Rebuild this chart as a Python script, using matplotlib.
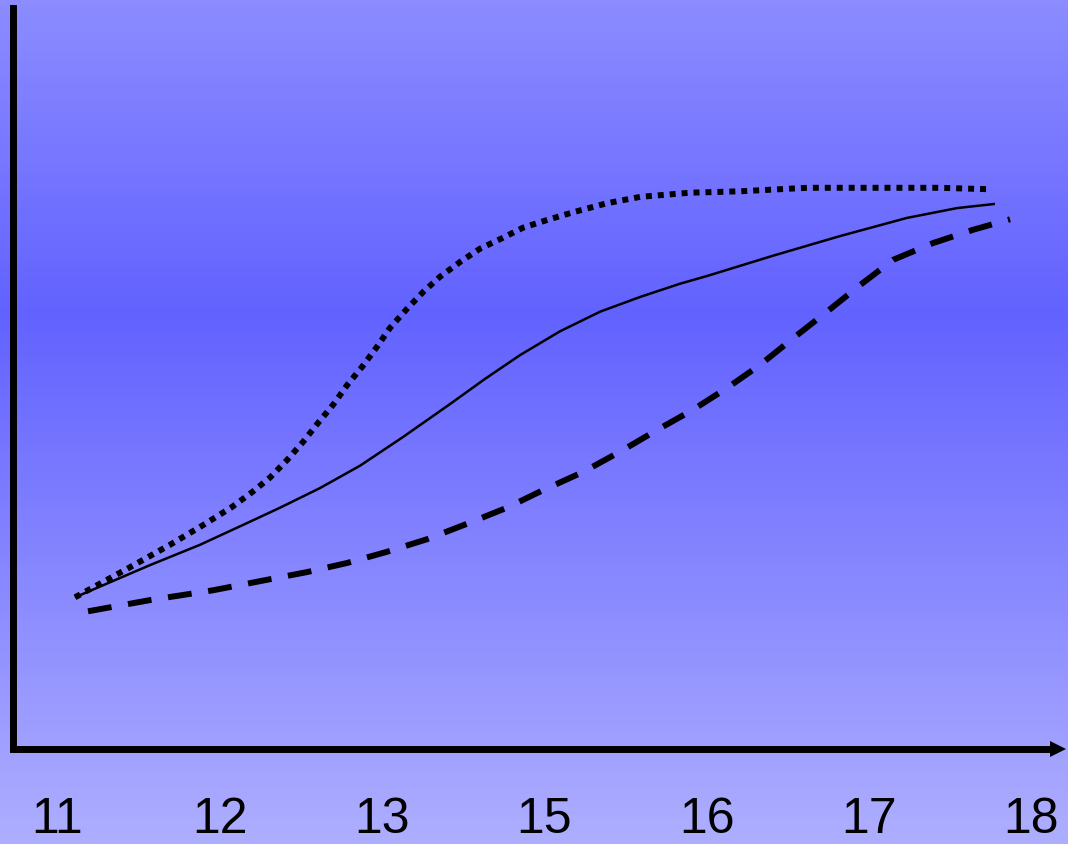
import matplotlib
matplotlib.use('Agg')
import matplotlib.pyplot as plt
import numpy as np
from matplotlib.colors import LinearSegmentedColormap

plt.rcParams['font.family'] = ['Liberation Sans', 'DejaVu Sans']

# Category labels along the x axis (evenly spaced positions 0..6)
categories = ['11', '12', '13', '15', '16', '17', '18']

# Solid curve (x in category-position units, y in arbitrary units)
solid_x = [0.108, 0.570, 0.878, 1.186, 1.371, 1.617, 1.864, 2.129, 2.418, 2.634,
           2.850, 3.096, 3.343, 3.589, 3.836, 4.002, 4.409, 4.821, 5.234, 5.542, 5.776]
solid_y = [21.6, 26.2, 29.1, 32.4, 34.4, 37.2, 40.4, 44.5, 49.2, 52.8,
           56.2, 59.6, 62.4, 64.5, 66.4, 67.5, 70.4, 73.2, 75.8, 77.2, 77.8]

# Dotted curve
dotted_x = [0.108, 0.447, 0.693, 0.896, 1.075, 1.198, 1.309, 1.414, 1.513, 1.605,
            1.698, 1.784, 1.876, 1.969, 2.049, 2.153, 2.252, 2.357, 2.480, 2.603,
            2.739, 2.868, 3.016, 3.176, 3.386, 3.589, 3.897, 4.205, 4.618, 5.025,
            5.438, 5.733]
dotted_y = [21.6, 25.9, 29.1, 31.9, 34.5, 36.6, 38.7, 41.2, 43.8, 46.5,
            49.1, 51.9, 54.5, 57.4, 60.1, 62.8, 65.2, 67.4, 69.5, 71.4,
            72.9, 74.4, 75.5, 76.6, 77.9, 78.8, 79.4, 79.6, 80.1, 80.1,
            80.1, 79.9]

# Dashed curve
dashed_x = [0.188, 0.570, 0.958, 1.291, 1.537, 1.784, 2.030, 2.277, 2.523, 2.769,
            2.991, 3.238, 3.466, 3.694, 3.916, 4.125, 4.329, 4.532, 4.741, 4.945,
            5.148, 5.394, 5.641, 5.869]
dashed_y = [19.6, 21.2, 22.6, 24.1, 25.2, 26.5, 28.1, 29.9, 32.1, 34.4,
            36.9, 39.5, 42.4, 45.5, 48.4, 51.5, 54.8, 58.6, 62.4, 66.2,
            69.8, 72.2, 74.1, 75.6]

W, H = 1068, 844
fig = plt.figure(figsize=(W / 100, H / 100), dpi=100)

# Background vertical gradient
bg = fig.add_axes([0, 0, 1, 1], zorder=0)
bg.axis('off')
grad = np.linspace(0, 1, H).reshape(-1, 1)
cmap = LinearSegmentedColormap.from_list(
    'bg', [(0.0, '#8c8cff'), (0.37, '#6262ff'), (1.0, '#aeaeff')])
bg.imshow(grad, aspect='auto', cmap=cmap, extent=[0, 1, 0, 1], origin='upper')

# Main axes
x0, x1 = 12.5, 1066
y_bottom, y_top = 748.5, 8
ax = fig.add_axes([x0 / W, (H - y_bottom) / H, (x1 - x0) / W, (y_bottom - y_top) / H], zorder=1)
ax.patch.set_alpha(0)

ax.plot(solid_x, solid_y, color='black', lw=1.8, solid_capstyle='butt',
        solid_joinstyle='round')
ax.plot(dotted_x, dotted_y, color='black', lw=4.3, linestyle=(0, (1, 1)),
        dash_capstyle='butt')
ax.plot(dashed_x, dashed_y, color='black', lw=4.3, linestyle=(0, (4, 2.8)),
        dash_capstyle='butt')

ax.set_xlim((x0 - 57.5) / 162.3, (x1 - 57.5) / 162.3)
ax.set_ylim(0, (y_bottom - y_top) / 7)

for s in ['top', 'right', 'bottom']:
    ax.spines[s].set_visible(False)
ax.spines['left'].set_linewidth(5)
ax.spines['left'].set_color('black')

# Horizontal axis with arrowhead
ax.plot([0, 0.988], [0, 0], transform=ax.transAxes, color='black', lw=5,
        solid_capstyle='butt', clip_on=False)
ax.plot([0.9925], [0], transform=ax.transAxes, marker='>', ms=12, mew=0,
        color='black', clip_on=False)

ax.set_yticks([])
ax.set_xticks(range(len(categories)))
ax.set_xticklabels(categories, fontsize=36)
ax.tick_params(axis='x', length=0, pad=35)

fig.savefig('out.png', dpi=100)
